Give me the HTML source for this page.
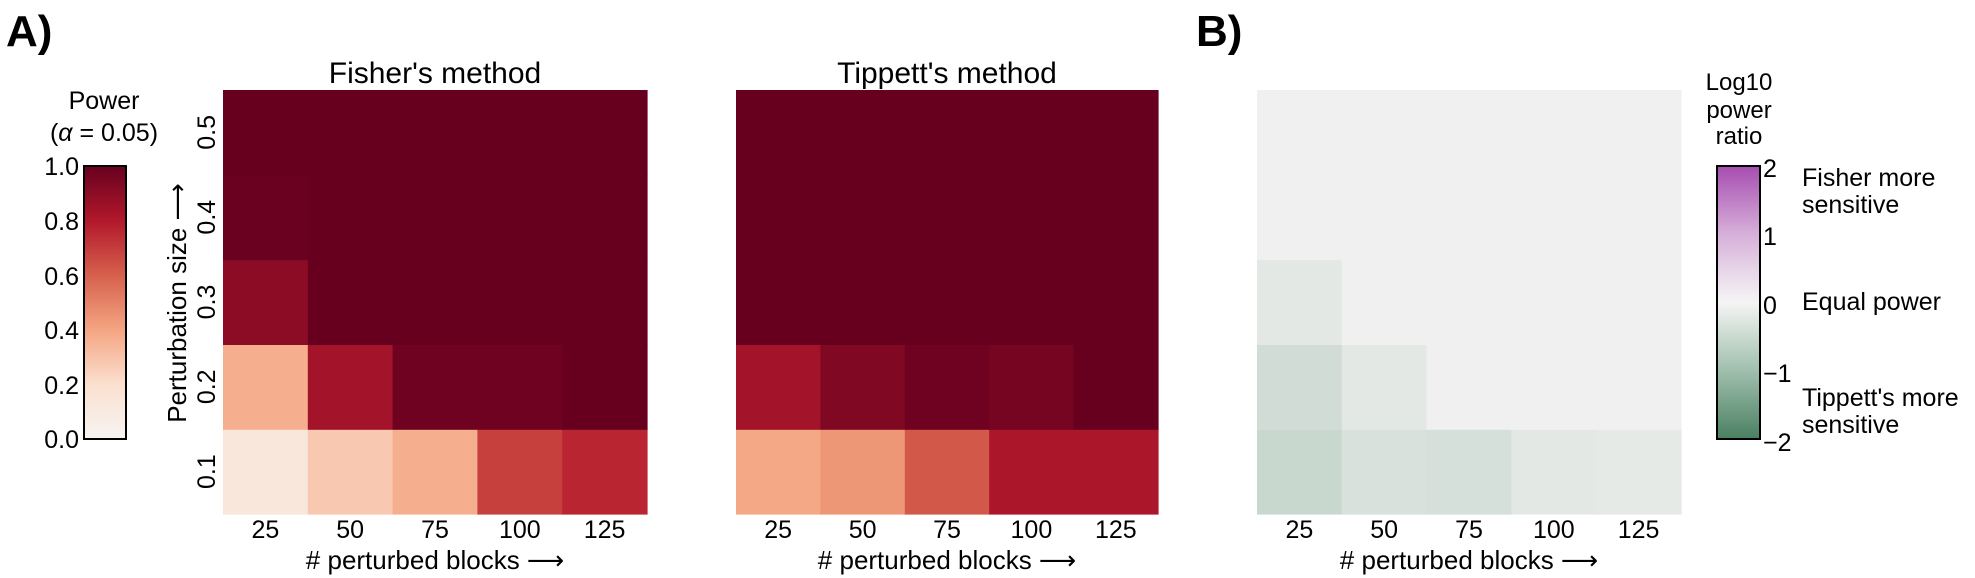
<!DOCTYPE html>
<html><head><meta charset="utf-8"><style>
html,body{margin:0;padding:0;background:#fff;}
svg{display:block;font-family:"Liberation Sans","DejaVu Sans",sans-serif;}
</style></head><body>
<svg id="fig" width="1975" height="578" viewBox="0 0 1975 578" xmlns="http://www.w3.org/2000/svg">
<defs>
<linearGradient id="gradPower" x1="0" y1="1" x2="0" y2="0">
<stop offset="0" stop-color="#f7f4f2"/><stop offset="0.2" stop-color="#fbe0d0"/><stop offset="0.4" stop-color="#f4a582"/><stop offset="0.6" stop-color="#d6604d"/><stop offset="0.8" stop-color="#b2182b"/><stop offset="1" stop-color="#67001f"/>
</linearGradient>
<linearGradient id="gradRatio" x1="0" y1="1" x2="0" y2="0">
<stop offset="0" stop-color="#4a8062"/><stop offset="0.25" stop-color="#a0bfad"/><stop offset="0.5" stop-color="#f5f5f5"/><stop offset="0.75" stop-color="#d7b0da"/><stop offset="1" stop-color="#a64db0"/>
</linearGradient>
</defs>
<text x="6" y="46" font-size="44" font-weight="bold">A)</text>
<text x="1196" y="46" font-size="44" font-weight="bold">B)</text>
<g id="plots"></g>
<text x="104" y="109" font-size="25" text-anchor="middle">Power</text>
<text x="104" y="141" font-size="25" text-anchor="middle">(<tspan font-style="italic">α</tspan> = 0.05)</text>
<rect x="84" y="166" width="42" height="273" fill="url(#gradPower)" stroke="#000" stroke-width="2"/>
<g font-size="25" text-anchor="end">
<text x="79" y="175">1.0</text><text x="79" y="230">0.8</text><text x="79" y="285">0.6</text><text x="79" y="339">0.4</text><text x="79" y="394">0.2</text><text x="79" y="448">0.0</text>
</g>
<g font-size="24" text-anchor="middle">
<text x="1739" y="90">Log10</text><text x="1739" y="118">power</text><text x="1739" y="144">ratio</text>
</g>
<rect x="1717" y="166" width="43" height="273" fill="url(#gradRatio)" stroke="#000" stroke-width="2"/>
<g font-size="25">
<text x="1763" y="177">2</text><text x="1763" y="245">1</text><text x="1763" y="314">0</text><text x="1763" y="382">−1</text><text x="1763" y="451">−2</text>
</g>
<g font-size="25">
<text x="1802" y="186">Fisher more</text><text x="1802" y="213">sensitive</text>
<text x="1802" y="310">Equal power</text>
<text x="1802" y="406">Tippett's more</text><text x="1802" y="433">sensitive</text>
</g>
</svg>
<script>
const blocks = ["25","50","75","100","125"];
const sizes = ["0.1","0.2","0.3","0.4","0.5"];
const fisherPower = [
  [0.13,0.28,0.37,0.69,0.76],
  [0.37,0.84,0.98,0.98,1.0],
  [0.9,1.0,1.0,1.0,1.0],
  [0.99,1.0,1.0,1.0,1.0],
  [1.0,1.0,1.0,1.0,1.0]
];
const tippettPower = [
  [0.39,0.44,0.62,0.82,0.82],
  [0.84,0.93,0.98,0.96,1.0],
  [1.0,1.0,1.0,1.0,1.0],
  [1.0,1.0,1.0,1.0,1.0],
  [1.0,1.0,1.0,1.0,1.0]
];
const logRatio = [
  [-0.5,-0.3,-0.33,-0.16,-0.13],
  [-0.4,-0.16,0,0,0],
  [-0.16,0,0,0,0],
  [0,0,0,0,0],
  [0,0,0,0,0]
];

const NS="http://www.w3.org/2000/svg";
const root=document.getElementById('plots');
function mk(tag,attrs,parent){const e=document.createElementNS(NS,tag);for(const k in attrs)e.setAttribute(k,attrs[k]);(parent||root).appendChild(e);return e;}
function hex(h){return [parseInt(h.slice(1,3),16),parseInt(h.slice(3,5),16),parseInt(h.slice(5,7),16)];}
function interp(stops,v){
  for(let i=0;i<stops.length-1;i++){const a=stops[i],b=stops[i+1];
    if(v<=b[0]){const t=(v-a[0])/(b[0]-a[0]);const ca=hex(a[1]),cb=hex(b[1]);
      return 'rgb('+ca.map((c,j)=>Math.round(c+(cb[j]-c)*t)).join(',')+')';}}
  return stops[stops.length-1][1];}
const powerStops=[[0,'#f7f4f2'],[0.2,'#fbe0d0'],[0.4,'#f4a582'],[0.6,'#d6604d'],[0.8,'#b2182b'],[1,'#67001f']];
const ratioStops=[[-2,'#4a8062'],[-1,'#a0bfad'],[0,'#f0f0f0'],[1,'#d7b0da'],[2,'#a64db0']];

const gridTop=90, gridBottom=514;
function panel(name,x0,x1,data,stops,title,showY){
  const g=mk('g',{});
  
  
  const cw=(x1-x0)/blocks.length, ch=(gridBottom-gridTop)/sizes.length;
  const xS=i=>x0+i*cw, yS=r=>gridBottom-(r+1)*ch;
  data.forEach((row,r)=>row.forEach((v,c)=>{
    const rc=mk('rect',{x:xS(c),y:yS(r),width:cw+0.6,height:ch+0.6,fill:interp(stops,v)},g);
    
    
  }));
  blocks.forEach((b,c)=>{
    const t=mk('text',{x:xS(c)+cw/2,y:538,'font-size':25,'text-anchor':'middle'},g);t.textContent=b;
    
    
  });
  const xl=mk('text',{x:(x0+x1)/2,y:569,'font-size':26,'text-anchor':'middle'},g);xl.textContent='# perturbed blocks  ⟶';
  
  
  if(title){const tt=mk('text',{x:(x0+x1)/2,y:83,'font-size':30,'text-anchor':'middle'},g);tt.textContent=title;
    
    }
  if(showY){
    sizes.forEach((s,r)=>{const cy=yS(r)+ch/2;
      const t=mk('text',{x:0,y:0,'font-size':25,'text-anchor':'middle',transform:'translate(215,'+cy+') rotate(-90)'},g);t.textContent=s;
      
      });
    const yl=mk('text',{x:0,y:0,'font-size':26,'text-anchor':'middle',transform:'translate(186,303) rotate(-90)'},g);yl.textContent='Perturbation size  ⟶';
    
    
  }
}
panel('fisher',223,647,fisherPower,powerStops,"Fisher's method",true);
panel('tippett',736,1158,tippettPower,powerStops,"Tippett's method",false);
panel('ratio',1257,1681,logRatio,ratioStops,null,false);
</script>
</body></html>
